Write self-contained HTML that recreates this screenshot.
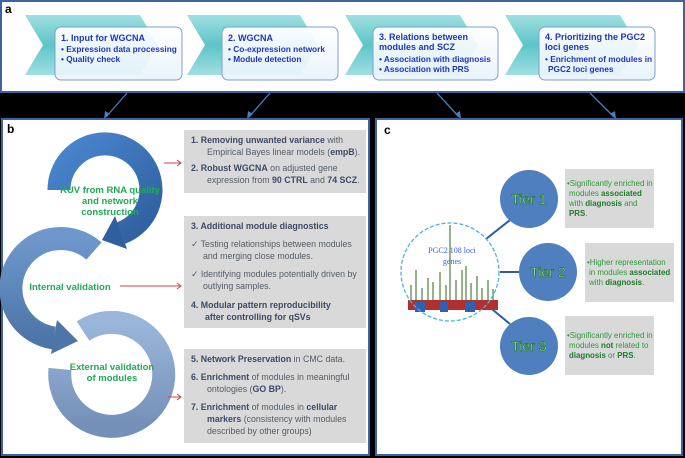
<!DOCTYPE html>
<html><head><meta charset="utf-8"><style>
body{margin:0;background:#000;}
svg{display:block;font-family:"Liberation Sans",sans-serif;}
</style></head><body>
<svg width="685" height="458" viewBox="0 0 685 458" xmlns="http://www.w3.org/2000/svg">
<defs>
<linearGradient id="tl" x1="0" y1="0" x2="0" y2="1"><stop offset="0" stop-color="#9fe0e2"/><stop offset="0.5" stop-color="#5ec4c8"/><stop offset="1" stop-color="#9fe0e2"/></linearGradient>
<linearGradient id="bx" x1="0" y1="0" x2="0" y2="1"><stop offset="0" stop-color="#ffffff" stop-opacity="0.95"/><stop offset="1" stop-color="#e8f3fb" stop-opacity="0.9"/></linearGradient>
<linearGradient id="r1" x1="0" y1="0" x2="1" y2="1"><stop offset="0" stop-color="#4a86cf"/><stop offset="1" stop-color="#2f5f9e"/></linearGradient>
<linearGradient id="r2" x1="0" y1="0" x2="0" y2="1"><stop offset="0" stop-color="#6e98cc"/><stop offset="1" stop-color="#4d75a8"/></linearGradient>
<linearGradient id="r3" x1="0" y1="0" x2="0" y2="1"><stop offset="0" stop-color="#9ab6da"/><stop offset="1" stop-color="#7490b8"/></linearGradient>
</defs>
<!-- panel a -->
<rect x="1" y="1" width="683" height="91" fill="#fff" stroke="#3b64a0" stroke-width="2"/>
<text x="5" y="13" font-size="12" font-weight="bold" fill="#000">a</text>
<g fill="url(#tl)">
<polygon points="25,15 140,15 158,45 140,75 25,75 43,45"/>
<polygon points="187,15 300,15 318,45 300,75 187,75 205,45"/>
<polygon points="345,15 460,15 478,45 460,75 345,75 363,45"/>
<polygon points="505,15 620,15 638,45 620,75 505,75 523,45"/>
</g>
<g fill="url(#bx)" stroke="#7f9fd0" stroke-width="1">
<rect x="55" y="27" width="127" height="53" rx="6"/>
<rect x="222" y="27" width="116" height="53" rx="6"/>
<rect x="373" y="27" width="125" height="53" rx="6"/>
<rect x="539" y="27" width="116" height="53" rx="6"/>
</g>
<g font-size="8.3" font-weight="bold" fill="#2233bb">
<text x="61" y="41" font-size="9">1. Input for WGCNA</text>
<text x="61" y="52">• Expression data processing</text>
<text x="61" y="62">• Quality check</text>
<text x="228" y="41" font-size="9">2. WGCNA</text>
<text x="228" y="52">• Co-expression network</text>
<text x="228" y="62">• Module detection</text>
<text x="379" y="40" font-size="9">3. Relations between</text>
<text x="379" y="50" font-size="9">modules and SCZ</text>
<text x="379" y="62">• Association with diagnosis</text>
<text x="379" y="72">• Association with PRS</text>
<text x="545" y="40" font-size="9">4. Prioritizing  the PGC2</text>
<text x="545" y="50" font-size="9">loci genes</text>
<text x="545" y="62">• Enrichment of modules in</text>
<text x="548" y="72">PGC2 loci genes</text>
</g>
<g stroke="#4a7cc0" stroke-width="1.3" fill="none">
<line x1="127" y1="93" x2="106" y2="117"/><line x1="270" y1="93" x2="249" y2="117"/>
<line x1="437" y1="93" x2="459" y2="117"/><line x1="590" y1="93" x2="614" y2="117"/>
</g>
<g fill="#4a7cc0">
<polygon points="104,119 105,111 110,114"/><polygon points="247,119 248,111 253,114"/>
<polygon points="461,119 455,114 460,111"/><polygon points="616,119 610,114 615,111"/>
</g>
<!-- panel b -->
<rect x="2" y="119" width="367" height="336" fill="#fff" stroke="#3b64a0" stroke-width="2"/>
<text x="7" y="133" font-size="12" font-weight="bold" fill="#000">b</text>
<path d="M 83,331 A 52 52 0 1 1 60,369" fill="none" stroke="url(#r3)" stroke-width="23"/>
<path d="M 94,251 A 50 50 0 1 0 54,338" fill="none" stroke="url(#r2)" stroke-width="23"/>
<polygon points="51,354 57,320 78,341" fill="#4d75a8"/>
<path d="M 59,190 A 46 46 0 1 1 121,233" fill="none" stroke="url(#r1)" stroke-width="23"/>
<polygon points="127,249 115,216 102,240" fill="#2f5f9e"/>
<g font-size="9.5" font-weight="bold" fill="#1faa55" text-anchor="middle">
<text x="110" y="193">RUV from RNA quality</text>
<text x="110" y="204">and network</text>
<text x="110" y="215">construction</text>
<text x="70" y="290">Internal validation</text>
<text x="112" y="370">External validation</text>
<text x="112" y="381">of modules</text>
</g>
<g fill="#d9d9d9">
<rect x="184" y="130" width="182" height="63"/>
<rect x="184" y="216" width="182" height="112"/>
<rect x="184" y="349" width="182" height="94"/>
</g>
<g stroke="#d04040" stroke-width="1" fill="none">
<line x1="164" y1="163" x2="181" y2="163"/><polyline points="177,160 181,163 177,166"/>
<line x1="120" y1="286" x2="181" y2="286"/><polyline points="177,283 181,286 177,289"/>
<line x1="168" y1="397" x2="181" y2="397"/><polyline points="177,394 181,397 177,400"/>
</g>
<g font-size="8.8" fill="#555c66">
<text x="191" y="143"><tspan font-weight="bold" fill="#3b4a66">1.   Removing unwanted variance</tspan> with</text>
<text x="207" y="155">Empirical Bayes linear models (<tspan font-weight="bold" fill="#3b4a66">empB</tspan>).</text>
<text x="191" y="171"><tspan font-weight="bold" fill="#3b4a66">2.   Robust WGCNA</tspan> on adjusted gene</text>
<text x="207" y="183">expression from <tspan font-weight="bold" fill="#3b4a66">90 CTRL</tspan> and <tspan font-weight="bold" fill="#3b4a66">74 SCZ</tspan>.</text>
<text x="191" y="229" font-weight="bold" fill="#3b4a66">3.  Additional module diagnostics</text>
<text x="191" y="247">✓ Testing relationships between modules</text>
<text x="203" y="259">and merging close modules.</text>
<text x="191" y="277">✓ Identifying modules potentially driven by</text>
<text x="203" y="289">outlying samples.</text>
<text x="191" y="308" font-weight="bold" fill="#3b4a66">4.  Modular pattern reproducibility</text>
<text x="205" y="320" font-weight="bold" fill="#3b4a66">after controlling for qSVs</text>
<text x="191" y="362"><tspan font-weight="bold" fill="#3b4a66">5.   Network Preservation</tspan> in CMC data.</text>
<text x="191" y="380"><tspan font-weight="bold" fill="#3b4a66">6.   Enrichment</tspan> of modules in meaningful</text>
<text x="207" y="392">ontologies (<tspan font-weight="bold" fill="#3b4a66">GO BP</tspan>).</text>
<text x="191" y="410"><tspan font-weight="bold" fill="#3b4a66">7.   Enrichment</tspan> of modules in <tspan font-weight="bold" fill="#3b4a66">cellular</tspan></text>
<text x="207" y="422"><tspan font-weight="bold" fill="#3b4a66">markers</tspan> (consistency with modules</text>
<text x="207" y="434">described by other groups)</text>
</g>
<!-- panel c -->
<rect x="376" y="119" width="306" height="336" fill="#fff" stroke="#3b64a0" stroke-width="2"/>
<text x="384" y="134" font-size="12" font-weight="bold" fill="#000">c</text>
<g stroke="#2f5f9e" stroke-width="2">
<line x1="486" y1="239" x2="510" y2="220"/><line x1="500" y1="272" x2="520" y2="272"/><line x1="487" y1="305" x2="510" y2="324"/>
</g>
<g>
<rect x="408" y="300" width="90" height="10" fill="#b03030"/>
<rect x="415" y="302" width="10" height="10" fill="#3060b0"/><rect x="440" y="302" width="8" height="10" fill="#3060b0"/><rect x="465" y="302" width="10" height="10" fill="#3060b0"/>
<g stroke="#5a8a4a" stroke-width="1.3">
<line x1="411" y1="300" x2="411" y2="285"/><line x1="416" y1="300" x2="416" y2="270"/><line x1="422" y1="300" x2="422" y2="288"/><line x1="428" y1="300" x2="428" y2="278"/><line x1="433" y1="300" x2="433" y2="282"/><line x1="440" y1="300" x2="440" y2="272"/><line x1="446" y1="300" x2="446" y2="285"/><line x1="450" y1="300" x2="450" y2="225"/><line x1="456" y1="300" x2="456" y2="280"/><line x1="462" y1="300" x2="462" y2="270"/><line x1="466" y1="300" x2="466" y2="266"/><line x1="471" y1="300" x2="471" y2="283"/><line x1="477" y1="300" x2="477" y2="276"/><line x1="482" y1="300" x2="482" y2="288"/><line x1="488" y1="300" x2="488" y2="280"/><line x1="493" y1="300" x2="493" y2="289"/>
</g>
</g>
<circle cx="450" cy="272" r="49" fill="none" stroke="#4ab2e8" stroke-width="1.3" stroke-dasharray="4,2"/>
<text x="452" y="253" font-size="8" fill="#3a5ee0" text-anchor="middle" font-family="Liberation Serif,serif">PGC2 108 loci</text>
<text x="452" y="264" font-size="8" fill="#3a5ee0" text-anchor="middle" font-family="Liberation Serif,serif">genes</text>
<g fill="#4f7fbf">
<circle cx="529" cy="199" r="29"/><circle cx="548" cy="272" r="29"/><circle cx="529" cy="346" r="29"/>
</g>
<g font-size="14" fill="#e0fbd8" stroke="#1f7a2a" stroke-width="0.7" text-anchor="middle">
<text x="529" y="204">Tier 1</text><text x="548" y="277">Tier 2</text><text x="529" y="351">Tier 3</text>
</g>
<g fill="#d9d9d9">
<rect x="565" y="169" width="89" height="59"/><rect x="585" y="243" width="89" height="59"/><rect x="565" y="316" width="89" height="59"/>
</g>
<g font-size="7.9" fill="#2e9a3a">
<text x="567" y="186">•Significantly enriched in</text>
<text x="569" y="196">modules <tspan font-weight="bold" fill="#1d7a28">associated</tspan></text>
<text x="569" y="206">with <tspan font-weight="bold" fill="#1d7a28">diagnosis</tspan> and</text>
<text x="569" y="216" font-weight="bold" fill="#1d7a28">PRS<tspan font-weight="normal" fill="#2e9a3a">.</tspan></text>
<text x="587" y="265">•Higher representation</text>
<text x="589" y="275">in modules <tspan font-weight="bold" fill="#1d7a28">associated</tspan></text>
<text x="589" y="285">with <tspan font-weight="bold" fill="#1d7a28">diagnosis</tspan>.</text>
<text x="567" y="338">•Significantly enriched in</text>
<text x="569" y="348">modules <tspan font-weight="bold" fill="#1d7a28">not</tspan> related to</text>
<text x="569" y="358"><tspan font-weight="bold" fill="#1d7a28">diagnosis</tspan> or <tspan font-weight="bold" fill="#1d7a28">PRS</tspan>.</text>
</g>
</svg>
</body></html>
